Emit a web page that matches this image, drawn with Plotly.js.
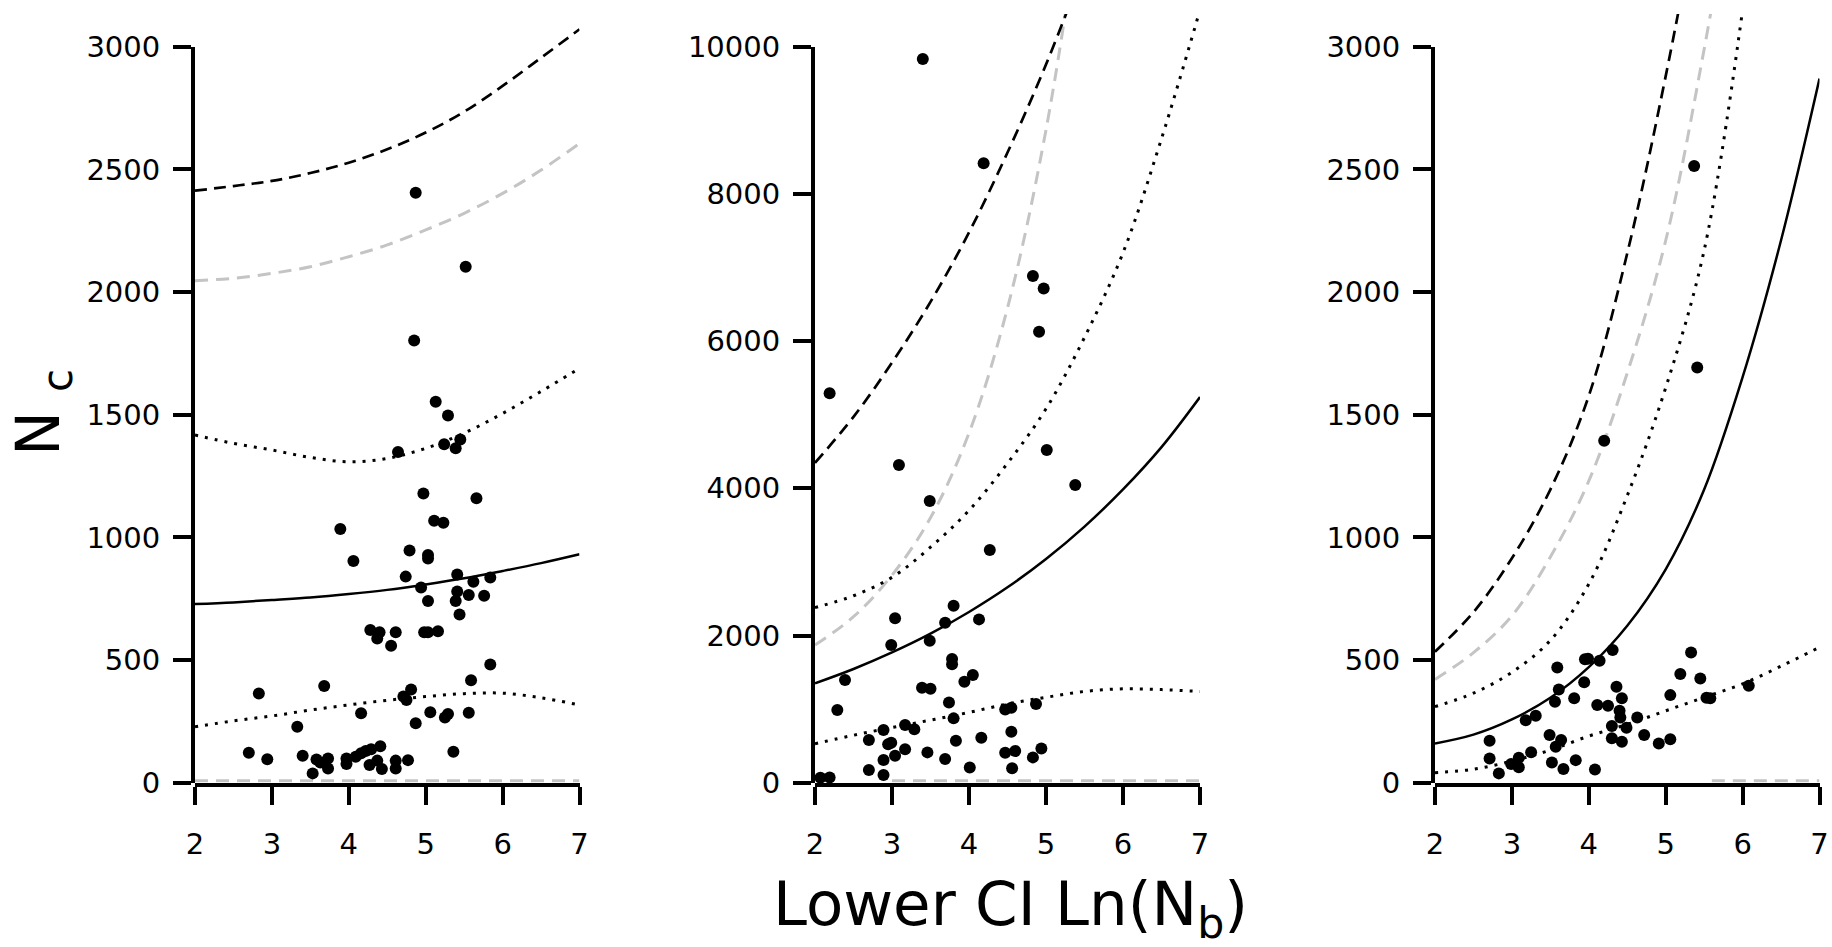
<!DOCTYPE html>
<html>
<head>
<meta charset="utf-8">
<script src="https://cdn.plot.ly/plotly-3.0.1.min.js"></script>
<style>html,body{margin:0;padding:0;background:#fff;}#chart{width:1832px;height:947px;}</style>
</head>
<body>
<div id="chart"></div>
<script>
// ---------------- data ----------------
var curveX = [2, 2.5, 3, 3.5, 4, 4.5, 5, 5.5, 6, 6.5, 7];

// Panel 1
var p1x = [4.87, 5.52, 4.85, 5.13, 5.29, 5.24, 5.39, 5.45, 4.64, 4.97, 5.66, 5.11, 5.23, 3.89, 4.79, 5.03, 5.03, 4.06, 4.74, 5.41, 5.84, 5.62, 4.94, 5.41, 5.56, 5.76, 5.03, 5.39, 5.44, 4.28, 4.40, 4.37, 4.61, 4.55, 4.98, 5.03, 5.16, 5.84, 5.59, 3.68, 2.83, 4.81, 4.71, 4.75, 4.16, 5.06, 5.29, 5.25, 5.56, 4.87, 3.33, 5.36, 2.70, 2.94, 3.40, 3.58, 3.63, 3.73, 3.73, 3.53, 3.97, 3.97, 4.09, 4.16, 4.22, 4.29, 4.41, 4.27, 4.37, 4.43, 4.61, 4.61, 4.77];
var p1y = [2405, 2103, 1802, 1553, 1497, 1380, 1363, 1399, 1348, 1179, 1159, 1068, 1060, 1034, 946, 928, 914, 904, 840, 849, 836, 819, 796, 779, 765, 762, 741, 741, 686, 622, 613, 588, 613, 558, 613, 613, 617, 482, 418, 394, 364, 380, 351, 337, 283, 287, 280, 266, 285, 242, 228, 126, 122, 96, 110, 95, 82, 99, 58, 38, 99, 76, 106, 120, 129, 136, 149, 72, 90, 56, 90, 58, 92];
var p1Solid = [728, 735, 745, 755, 769, 786, 808, 833, 863, 895, 931];
var p1DotLow = [228, 252, 272, 296, 317, 336, 351, 363, 365, 346, 317];
var p1DotHigh = [1417, 1383, 1356, 1326, 1308, 1322, 1363, 1425, 1505, 1595, 1689];
var p1Dash = [2413, 2432, 2453, 2485, 2527, 2582, 2650, 2735, 2840, 2955, 3071];
var p1Grey = [2046, 2056, 2076, 2103, 2144, 2192, 2253, 2321, 2402, 2497, 2606];
var p1GreyLowX = [2, 7];
var p1GreyLow = [8, 8];

// Panel 2
var p2x = [3.40, 4.57, 4.19, 4.83, 4.97, 4.91, 2.19, 5.01, 3.09, 5.38, 3.49, 4.27, 3.80, 3.04, 4.13, 3.69, 2.99, 3.49, 3.78, 3.78, 4.05, 3.94, 2.39, 3.39, 3.50, 3.74, 2.29, 4.47, 4.55, 4.87, 3.80, 3.17, 3.29, 2.89, 4.55, 2.70, 4.16, 3.83, 2.95, 2.99, 3.17, 4.94, 3.46, 4.47, 4.60, 3.04, 4.83, 3.69, 2.89, 4.01, 4.56, 2.70, 2.89, 2.07, 2.19];
var p2y = [9832, 10032, 8415, 6884, 6716, 6128, 5290, 4520, 4316, 4044, 3827, 3161, 2405, 2233, 2219, 2174, 1870, 1929, 1680, 1608, 1463, 1372, 1395, 1291, 1277, 1091, 987, 996, 1019, 1069, 874, 784, 725, 716, 693, 580, 611, 571, 521, 543, 453, 466, 412, 408, 430, 367, 344, 322, 308, 208, 195, 172, 104, 68, 72];
var p2Solid = [1350, 1545, 1770, 2025, 2320, 2655, 3040, 3480, 3985, 4560, 5240];
var p2DotLow = [530, 645, 750, 850, 955, 1070, 1160, 1240, 1275, 1265, 1240];
var p2DotHigh = [2380, 2540, 2790, 3200, 3700, 4340, 5080, 6050, 7200, 8750, 10500];
var p2Dash = [4345, 4971, 5707, 6533, 7476, 8562, 9758, 11100];
var p2Grey = [1870, 2255, 2820, 3600, 4750, 6450, 8870, 12200];
var p2GreyLowX = [3, 7];
var p2GreyLow = [25, 25];

// Panel 3
var p3x = [5.37, 5.41, 4.20, 5.33, 4.31, 3.95, 3.99, 4.14, 3.59, 5.19, 5.45, 3.94, 4.36, 3.61, 6.08, 5.06, 5.53, 5.58, 4.43, 3.81, 3.56, 4.11, 4.25, 4.40, 4.41, 3.31, 3.18, 4.63, 4.30, 4.49, 3.49, 3.64, 4.72, 4.30, 4.43, 5.06, 4.91, 2.71, 3.57, 3.25, 2.71, 3.09, 3.83, 2.99, 3.09, 3.52, 3.67, 2.83, 4.08];
var p3y = [2514, 1692, 1394, 531, 541, 503, 505, 497, 470, 443, 425, 409, 391, 380, 395, 357, 346, 344, 344, 344, 330, 317, 314, 293, 266, 273, 255, 266, 231, 224, 194, 174, 194, 181, 167, 177, 160, 171, 147, 124, 99, 102, 92, 76, 63, 82, 56, 38, 54];
var p3Solid = [160, 196, 258, 346, 471, 640, 870, 1195, 1653, 2211, 2870];
var p3DotLow = [41, 55, 88, 133, 190, 238, 293, 348, 403, 475, 552];
var p3DotHigh = [310, 365, 450, 580, 810, 1170, 1610, 2170, 3150];
var p3Dash = [534, 695, 915, 1195, 1577, 2158, 2880, 3700];
var p3Grey = [421, 530, 680, 920, 1230, 1670, 2210, 2990, 3900];
var p3GreyLowX = [5.6, 7];
var p3GreyLow = [8, 8];

var yTickStep = [500, 2000, 500];
var yAxisMax = [3000, 10000, 3000];
var xTitle = 'Lower CI Ln(N<sub>b</sub>)';
var yTitle = 'N <sub>c</sub>';

// ---------------- layout geometry ----------------
var W = 1832, H = 947;
var plotTopPx = 14, plotBotPx = 782.7, axisTopPx = 46.7;
var xDomPx = [[195, 579.5], [815, 1200], [1435, 1819.5]];
var FONT = 'DejaVu Sans, Verdana, sans-serif';

var panels = [
  {px: p1x, py: p1y, solid: p1Solid, dlow: p1DotLow, dhigh: p1DotHigh, dash: p1Dash, grey: p1Grey, glx: p1GreyLowX, gl: p1GreyLow},
  {px: p2x, py: p2y, solid: p2Solid, dlow: p2DotLow, dhigh: p2DotHigh, dash: p2Dash, grey: p2Grey, glx: p2GreyLowX, gl: p2GreyLow},
  {px: p3x, py: p3y, solid: p3Solid, dlow: p3DotLow, dhigh: p3DotHigh, dash: p3Dash, grey: p3Grey, glx: p3GreyLowX, gl: p3GreyLow}
];

var traces = [];
var layout = {
  width: W, height: H, autosize: false,
  margin: {l: 0, r: 0, t: 0, b: 0, pad: 0},
  paper_bgcolor: '#ffffff', plot_bgcolor: 'rgba(0,0,0,0)',
  showlegend: false,
  font: {family: FONT, color: '#000000', size: 29},
  annotations: [],
  hovermode: false
};

var yBot = 1 - plotBotPx / H, yTopData = 1 - plotTopPx / H, yTopAxis = 1 - axisTopPx / H;
var dataScale = (plotBotPx - plotTopPx) / (plotBotPx - axisTopPx);

function lineTrace(xa, ya, xs, ys, color, width, dash) {
  return {type: 'scatter', mode: 'lines', x: xs, y: ys, xaxis: xa, yaxis: ya,
    line: {color: color, width: width, dash: dash, shape: 'spline', smoothing: 1},
    hoverinfo: 'skip', showlegend: false};
}

panels.forEach(function (p, i) {
  var xn = i === 0 ? 'x' : 'x' + (i + 1);
  var yn = i === 0 ? 'y' : 'y' + (i + 1);
  var sn = 'y' + (i + 4);
  var xk = i === 0 ? 'xaxis' : 'xaxis' + (i + 1);
  var yk = i === 0 ? 'yaxis' : 'yaxis' + (i + 1);
  var sk = 'yaxis' + (i + 4);

  traces.push(lineTrace(xn, yn, p.glx, p.gl, '#c4c4c4', 3, '13px,8px'));
  traces.push(lineTrace(xn, yn, curveX, p.grey, '#c4c4c4', 3, '13px,8px'));
  traces.push(lineTrace(xn, yn, curveX, p.dash, '#000000', 2.7, '12px,7px'));
  traces.push(lineTrace(xn, yn, curveX, p.dhigh, '#000000', 3, '3px,7px'));
  traces.push(lineTrace(xn, yn, curveX, p.dlow, '#000000', 3, '3px,7px'));
  traces.push(lineTrace(xn, yn, curveX, p.solid, '#000000', 2.5, 'solid'));
  traces.push({type: 'scatter', mode: 'markers', x: p.px, y: p.py, xaxis: xn, yaxis: sn,
    marker: {color: '#000000', size: 12, line: {width: 0}}, cliponaxis: false,
    hoverinfo: 'skip', showlegend: false});

  layout[xk] = {
    domain: [xDomPx[i][0] / W, xDomPx[i][1] / W], anchor: yn,
    range: [2, 7], tickmode: 'linear', tick0: 2, dtick: 1,
    ticks: 'outside', ticklen: 18, tickwidth: 4, tickcolor: '#000',
    showline: true, linewidth: 4, linecolor: '#000',
    zeroline: false, showgrid: false, fixedrange: true,
    ticklabelstandoff: 14,
    tickfont: {family: FONT, size: 29, color: '#000'}
  };
  layout[yk] = {
    domain: [yBot, yTopData], anchor: xn,
    range: [0, yAxisMax[i] * dataScale], visible: false,
    zeroline: false, showgrid: false, fixedrange: true
  };
  layout[sk] = {
    domain: [yBot, yTopAxis], anchor: xn,
    range: [0, yAxisMax[i]], tickmode: 'linear', tick0: 0, dtick: yTickStep[i],
    tickformat: 'd',
    ticks: 'outside', ticklen: 18, tickwidth: 4, tickcolor: '#000',
    showline: true, linewidth: 4, linecolor: '#000',
    zeroline: false, showgrid: false, fixedrange: true,
    ticklabelstandoff: 7,
    tickfont: {family: FONT, size: 29, color: '#000'}
  };
});

layout.annotations.push({
  text: xTitle, xref: 'paper', yref: 'paper',
  x: 1010 / W, y: 1 - 908 / H, xanchor: 'center', yanchor: 'middle',
  showarrow: false, font: {family: FONT, size: 61, color: '#000'}
});
layout.annotations.push({
  text: yTitle, xref: 'paper', yref: 'paper', textangle: -90,
  x: 42 / W, y: 1 - 413 / H, xanchor: 'center', yanchor: 'middle',
  showarrow: false, font: {family: FONT, size: 60, color: '#000'}
});

Plotly.newPlot('chart', traces, layout, {displayModeBar: false, staticPlot: true});
</script>
</body>
</html>
